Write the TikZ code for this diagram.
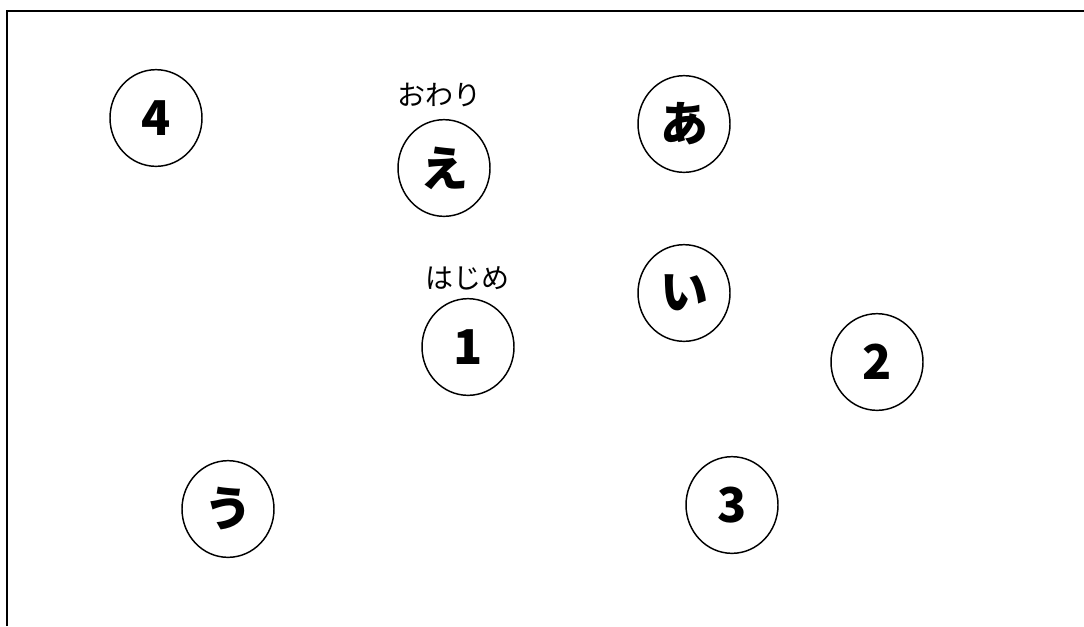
\documentclass[tikz,border=0pt]{standalone}
\usepackage{fontspec}
\newfontfamily\jpfont{Noto Sans CJK JP}
\usetikzlibrary{shapes.geometric}
\tikzset{
  spot/.style={ellipse, draw, line width=1.1pt, minimum width=69pt, minimum height=72.5pt, inner sep=0pt, font=\jpfont\bfseries\fontsize{36}{36}\selectfont},
  tag/.style={inner sep=0pt, font=\jpfont\fontsize{21}{21}\selectfont}
}
\begin{document}
\begin{tikzpicture}[x=0.75pt,y=0.75pt,yscale=-1,xscale=1]
\useasboundingbox (0,0) rectangle (1084,626);
% frame
\draw [line width=1.3pt] (7,626) -- (7,11) -- (1084,11);

% spots
\node [spot] (s4) at (156,118) {4};
\node [spot] (se) at (444,168) {え};
\node [spot] (sa) at (684,124) {あ};
\node [spot] (si) at (684,293) {い};
\node [spot] (s1) at (468,347) {1};
\node [spot] (s2) at (877,362) {2};
\node [spot] (su) at (228,509) {う};
\node [spot] (s3) at (732,505) {3};

% labels
\node [tag] (end) at (439,95) {おわり};
\node [tag] (start) at (467,278) {はじめ};
\end{tikzpicture}
\end{document}
